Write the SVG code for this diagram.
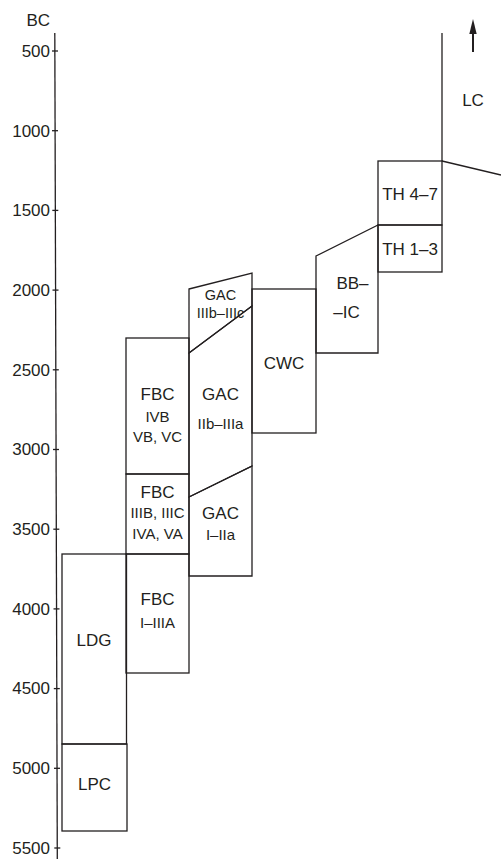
<svg xmlns="http://www.w3.org/2000/svg" width="501" height="859" viewBox="0 0 501 859">
<style>
.ln{fill:none;stroke:#231f20;stroke-width:1.3;stroke-linejoin:miter}
.bx{fill:none;stroke:#231f20;stroke-width:1.3}
text{font-family:"Liberation Sans",Arial,sans-serif;fill:#231f20;text-anchor:middle}
.ax{font-size:17px;text-anchor:end}
.t1{font-size:17px}
.t2{font-size:15px}
.t3{font-size:14.5px}
</style>
<rect width="501" height="859" fill="#fff"/>
<g id="axis">
<line class="ln" x1="54.8" y1="33" x2="57.3" y2="859"/>
<g class="ln">
<line x1="52" y1="51" x2="58" y2="51"/>
<line x1="52" y1="130.7" x2="58" y2="130.7"/>
<line x1="52.3" y1="210.4" x2="58.3" y2="210.4"/>
<line x1="52.5" y1="290.1" x2="58.5" y2="290.1"/>
<line x1="52.8" y1="369.8" x2="58.8" y2="369.8"/>
<line x1="53" y1="449.5" x2="59" y2="449.5"/>
<line x1="53.3" y1="529.2" x2="59.3" y2="529.2"/>
<line x1="53.5" y1="608.9" x2="59.5" y2="608.9"/>
<line x1="53.8" y1="688.6" x2="59.8" y2="688.6"/>
<line x1="54" y1="768.3" x2="60" y2="768.3"/>
<line x1="54.3" y1="848" x2="60.3" y2="848"/>
</g>
<text class="ax" x="50" y="26">BC</text>
<text class="ax" x="50" y="57">500</text>
<text class="ax" x="50" y="137">1000</text>
<text class="ax" x="50" y="216">1500</text>
<text class="ax" x="50" y="296">2000</text>
<text class="ax" x="50" y="376">2500</text>
<text class="ax" x="50" y="455">3000</text>
<text class="ax" x="50" y="535">3500</text>
<text class="ax" x="50" y="615">4000</text>
<text class="ax" x="50" y="694">4500</text>
<text class="ax" x="50" y="774">5000</text>
<text class="ax" x="50" y="854">5500</text>
</g>
<g id="LDG">
<rect class="bx" x="62" y="554" width="64.5" height="190"/>
<text class="t1" x="94" y="646">LDG</text>
</g>
<g id="LPC">
<rect class="bx" x="62" y="744" width="65" height="87"/>
<text class="t1" x="94.5" y="790">LPC</text>
</g>
<g id="FBC-IVB">
<rect class="bx" x="126" y="338" width="63" height="136"/>
<text class="t1" x="157.5" y="400">FBC</text>
<text class="t2" x="157.5" y="422">IVB</text>
<text class="t2" x="157.5" y="442">VB, VC</text>
</g>
<g id="FBC-IIIB">
<rect class="bx" x="126" y="474" width="63" height="80"/>
<text class="t1" x="157.5" y="498">FBC</text>
<text class="t2" x="157.5" y="518">IIIB, IIIC</text>
<text class="t2" x="157.5" y="539">IVA, VA</text>
</g>
<g id="FBC-I-IIIA">
<rect class="bx" x="126" y="554" width="63" height="119"/>
<text class="t1" x="157.5" y="605">FBC</text>
<text class="t2" x="157.5" y="628">I–IIIA</text>
</g>
<g id="GAC-IIIb-IIIc">
<polygon class="bx" points="189,289 252,273 252,306 189,353"/>
<text class="t3" x="220.5" y="300">GAC</text>
<text class="t3" x="220.5" y="318">IIIb–IIIc</text>
</g>
<g id="GAC-IIb-IIIa">
<polygon class="bx" points="189,353 252,306 252,466 189,497"/>
<text class="t1" x="220.5" y="400">GAC</text>
<text class="t2" x="220.5" y="429">IIb–IIIa</text>
</g>
<g id="GAC-I-IIa">
<polygon class="bx" points="189,497 252,466 252,576 189,576"/>
<text class="t1" x="220.5" y="519">GAC</text>
<text class="t2" x="220.5" y="540">I–IIa</text>
</g>
<g id="CWC">
<rect class="bx" x="252" y="289" width="64" height="144"/>
<text class="t1" x="284" y="369">CWC</text>
</g>
<g id="BB-IC">
<polygon class="bx" points="316,256 378,225 378,353 316,353"/>
<text class="t1" x="352.5" y="289">BB–</text>
<text class="t1" x="346.5" y="318">–IC</text>
</g>
<g id="TH-4-7">
<rect class="bx" x="378" y="161" width="64" height="64"/>
<text class="t1" x="410" y="200">TH 4–7</text>
</g>
<g id="TH-1-3">
<rect class="bx" x="378" y="225" width="64" height="47"/>
<text class="t1" x="410" y="255">TH 1–3</text>
</g>
<g id="LC">
<text class="t1" x="473" y="106">LC</text>
</g>
<g id="connectors">
<line class="ln" x1="442" y1="33" x2="442" y2="161"/>
<line class="ln" x1="442" y1="161" x2="501" y2="175"/>
<line x1="473" y1="52" x2="473" y2="30" stroke="#231f20" stroke-width="2"/>
<polygon points="473,19 469.3,34 476.7,34" fill="#231f20"/>
</g>
</svg>
